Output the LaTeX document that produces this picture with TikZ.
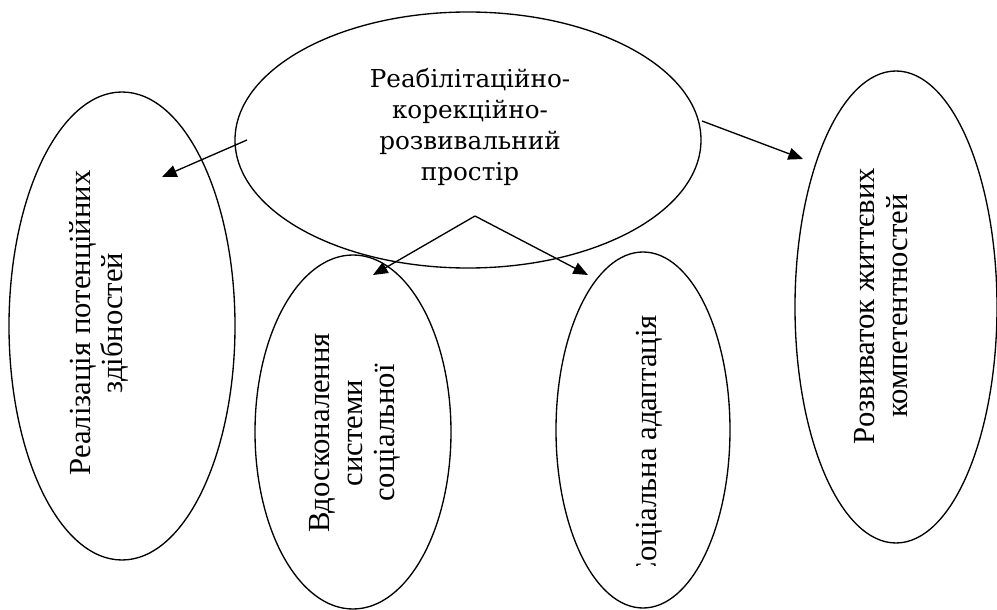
\documentclass[tikz,border=0pt]{standalone}
\usepackage{fontspec}
\setmainfont{Liberation Serif}
\newfontfamily\ovalfont{Liberation Serif}
\newfontfamily\titlefont{DejaVu Serif}
\usetikzlibrary{shapes.geometric,arrows.meta,calc}
\tikzset{
  oval/.style={ellipse,draw=black,line width=1pt,inner sep=0pt,outer sep=0pt},
  sidetext/.style={rotate=90,align=center,inner sep=0pt,font=\ovalfont\fontsize{23}{24.5}\selectfont},
  link/.style={line width=1pt,-{Triangle[length=11pt,width=9pt]}}
}

\begin{document}
\begin{tikzpicture}[x=0.75pt,y=-0.75pt]
                    \useasboundingbox (0,0) rectangle (997,610);
                    \node[oval,minimum width=349.5pt,minimum height=192pt] (centre) at (468,140) {};
                    \node[oval,minimum width=169.5pt,minimum height=351pt] (potential) at (122,326) {};
                    \node[oval,minimum width=147pt,minimum height=265.5pt] (system) at (353,432) {};
                    \node[oval,minimum width=130.5pt,minimum height=267pt] (adapt) at (643,430) {};
                    \node[oval,minimum width=151.5pt,minimum height=354pt] (skills) at (896,307) {};
                    \node[font=\titlefont\fontsize{18.5}{23.25}\selectfont,align=center,inner sep=0pt] (centretext) at (470,127) {Реабілітаційно-\\корекційно-\\розвивальний\\простір};
                    \node[sidetext] (potentialtext) at (99,323) {Реалізація потенційних\\здібностей};
                    \node[sidetext] (systemtext) at (355,433) {Вдосконалення\\системи\\соціальної};
                    \node[sidetext] (skillstext) at (881,306) {Розвиваток життєвих\\компетентностей};
                    \begin{scope}
                    \clip (550,240) rectangle (740,565);
                    \node[sidetext,anchor=base east] (adapttext) at (656,315) {Соціальна адаптація};
                    \end{scope}
                    \coordinate (l0) at (247,140);
                    \coordinate (l1) at (162,177);
                    \coordinate (r0) at (702,121);
                    \coordinate (r1) at (803,159);
                    \coordinate (apex) at (475,216);
                    \coordinate (d1) at (373,275);
                    \coordinate (d2) at (588,275);
                    \draw[link] (l0) -- (l1);
                    \draw[link] (r0) -- (r1);
                    \foreach \h in {d1,d2}{
                    \draw[link] (apex) -- (\h);
                    }
                    \end{tikzpicture}
\end{document}
